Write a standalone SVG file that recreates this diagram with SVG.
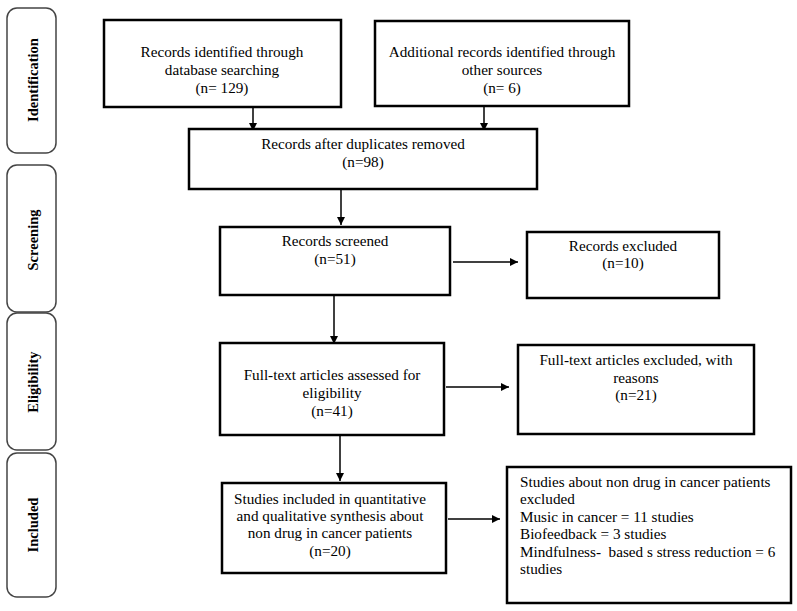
<svg xmlns="http://www.w3.org/2000/svg" width="797" height="611" viewBox="0 0 797 611">
<style>
.box{fill:#fff;stroke:#000;stroke-width:2.5}
.phase{fill:#fff;stroke:#444;stroke-width:1.5}
text{font-family:"Liberation Serif","Times New Roman",serif;font-size:15.2px;fill:#000}
.c{text-anchor:middle}
.ph{font-weight:bold;text-anchor:middle;font-size:14.5px}
.conn{stroke:#000;stroke-width:1.5;fill:none;marker-end:url(#ah)}
</style>
<defs>
<marker id="ah" viewBox="0 0 10 10" refX="10" refY="5" markerWidth="8" markerHeight="8" markerUnits="userSpaceOnUse" orient="auto">
<path d="M0,0 L10,5 L0,10 z" fill="#000"/>
</marker>
</defs>
<rect width="797" height="611" fill="#fff"/>
<g id="phase-identification">
<rect class="phase" x="7" y="8" width="49" height="145" rx="10"/>
<text class="ph" transform="translate(38,80) rotate(-90)">Identification</text>
</g>
<g id="phase-screening">
<rect class="phase" x="7" y="165" width="49" height="147" rx="10"/>
<text class="ph" transform="translate(38,240) rotate(-90)">Screening</text>
</g>
<g id="phase-eligibility">
<rect class="phase" x="7" y="313" width="49" height="137" rx="10"/>
<text class="ph" transform="translate(38,382) rotate(-90)">Eligibility</text>
</g>
<g id="phase-included">
<rect class="phase" x="7" y="453" width="49" height="144" rx="10"/>
<text class="ph" transform="translate(38,525) rotate(-90)">Included</text>
</g>
<g id="connectors">
<line class="conn" x1="253" y1="107" x2="253" y2="131"/>
<line class="conn" x1="484" y1="100" x2="484" y2="131"/>
<line class="conn" x1="341" y1="180" x2="341" y2="225"/>
<line class="conn" x1="453" y1="262" x2="518" y2="262"/>
<line class="conn" x1="334" y1="290" x2="334" y2="344"/>
<line class="conn" x1="446" y1="387" x2="509" y2="387"/>
<line class="conn" x1="340" y1="427" x2="340" y2="481"/>
<line class="conn" x1="448" y1="519" x2="500" y2="519"/>
</g>
<g id="n-db">
<rect class="box" x="104" y="20" width="237" height="87"/>
<text class="c" x="222" y="57">Records identified through</text>
<text class="c" x="222" y="75">database searching</text>
<text class="c" x="222" y="93">(n= 129)</text>
</g>
<g id="n-other">
<rect class="box" x="375" y="21" width="254" height="85"/>
<text class="c" x="502" y="57">Additional records identified through</text>
<text class="c" x="502" y="75">other sources</text>
<text class="c" x="502" y="93">(n= 6)</text>
</g>
<g id="n-dup">
<rect class="box" x="189" y="129" width="348" height="60"/>
<text class="c" x="363" y="149">Records after duplicates removed</text>
<text class="c" x="363" y="167">(n=98)</text>
</g>
<g id="n-screened">
<rect class="box" x="220" y="227" width="230" height="68"/>
<text class="c" x="335" y="246">Records screened</text>
<text class="c" x="335" y="264">(n=51)</text>
</g>
<g id="n-excluded">
<rect class="box" x="527" y="232" width="192" height="66"/>
<text class="c" x="623" y="251">Records excluded</text>
<text class="c" x="623" y="268">(n=10)</text>
</g>
<g id="n-fulltext">
<rect class="box" x="220" y="343" width="224" height="92"/>
<text class="c" x="332" y="380">Full-text articles assessed for</text>
<text class="c" x="332" y="398">eligibility</text>
<text class="c" x="332" y="416">(n=41)</text>
</g>
<g id="n-ft-excluded">
<rect class="box" x="518" y="345" width="236" height="89"/>
<text class="c" x="636" y="365">Full-text articles excluded, with</text>
<text class="c" x="636" y="383">reasons</text>
<text class="c" x="636" y="400">(n=21)</text>
</g>
<g id="n-included">
<rect class="box" x="222" y="483" width="224" height="90"/>
<text class="c" x="330" y="504">Studies included in quantitative</text>
<text class="c" x="330" y="521">and qualitative synthesis about</text>
<text class="c" x="330" y="538">non drug in cancer patients</text>
<text class="c" x="330" y="556">(n=20)</text>
</g>
<g id="n-nondrug-excluded">
<rect class="box" x="507" y="467" width="284" height="136"/>
<text x="520" y="487">Studies about non drug in cancer patients</text>
<text x="520" y="504">excluded</text>
<text x="520" y="522">Music in cancer = 11 studies</text>
<text x="520" y="539">Biofeedback = 3 studies</text>
<text x="520" y="557" xml:space="preserve">Mindfulness-  based s stress reduction = 6</text>
<text x="520" y="574">studies</text>
</g>
</svg>
